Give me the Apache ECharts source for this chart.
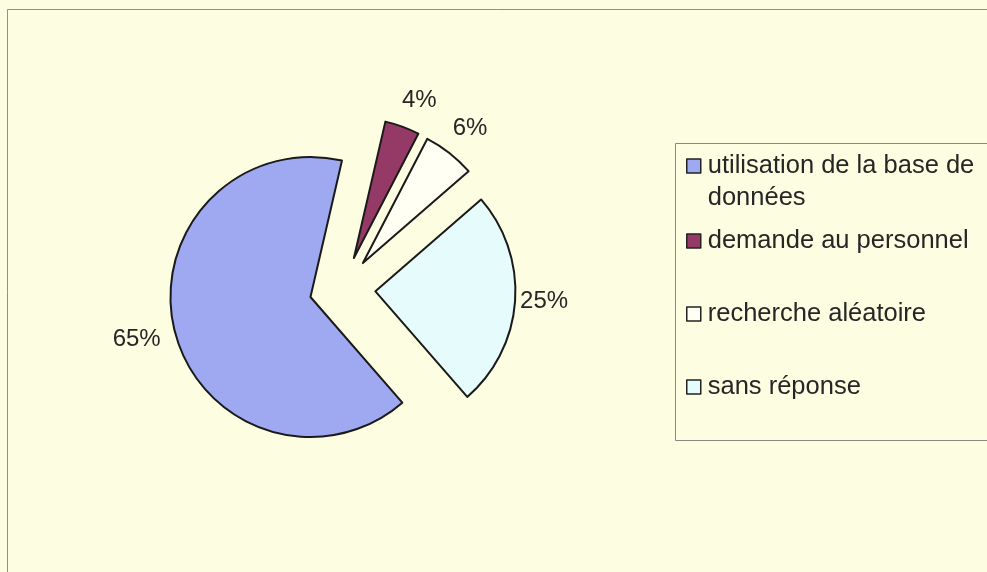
<!DOCTYPE html>
<html>
<head>
<meta charset="utf-8">
<script src="https://cdn.jsdelivr.net/npm/echarts@6/dist/echarts.min.js"></script>
<style>
  html, body { margin: 0; padding: 0; background: #FDFDE1; }
  #chart { width: 987px; height: 572px; }
</style>
</head>
<body>
<div id="chart"></div>
<script>
// ---- data ----
const categories = ['utilisation de la base de données', 'demande au personnel', 'recherche aléatoire', 'sans réponse'];
const legendLabels = ['\nutilisation de la base de\ndonnées', 'demande au personnel', 'recherche aléatoire', 'sans réponse'];
const values = [65, 4, 6, 25];

// ---- styling (not data) ----
const sliceColors = ['#9FA9F2', '#953A66', '#FFFFF3', '#E6FBFB'];
const labelLen = [35, 28, 31, 5];
const labelDist = [-20, -10, -16, 0];
const FONT = '"Liberation Sans", Arial, sans-serif';

const chart = echarts.init(document.getElementById('chart'), null, { renderer: 'canvas' });

const seriesData = categories.map((name, i) => ({
  name: name,
  value: values[i],
  selected: true,
  itemStyle: { color: sliceColors[i] },
  select: { itemStyle: { color: sliceColors[i] } },
  label: { distanceToLabelLine: labelDist[i] },
  labelLine: { length: labelLen[i], length2: 0 }
}));

const legendData = categories.map((name, i) => ({
  name: name,
  textStyle: i === 0 ? { lineHeight: 32 } : { lineHeight: 92 }
}));

chart.setOption({
  animation: false,
  backgroundColor: '#FDFDE1',
  graphic: [
    { type: 'rect', shape: { x: 7.5, y: 9.5, width: 1000, height: 600 },
      style: { fill: 'none', stroke: '#8f8f8f', lineWidth: 1 }, silent: true },
    { type: 'rect', shape: { x: 675.5, y: 143.5, width: 330, height: 297 },
      style: { fill: 'none', stroke: '#8a8a7a', lineWidth: 1 }, silent: true }
  ],
  legend: {
    orient: 'vertical',
    left: 686,
    top: 118,
    itemGap: -19,
    itemWidth: 14,
    itemHeight: 14,
    icon: 'rect',
    padding: 0,
    data: legendData,
    selectedMode: false,
    formatter: function (name) { return legendLabels[categories.indexOf(name)]; },
    itemStyle: { borderColor: '#222', borderWidth: 1.5 },
    textStyle: { fontFamily: FONT, fontSize: 25.5, color: '#262626', padding: [0, 0, 0, 2] }
  },
  series: [{
    type: 'pie',
    center: [342.5, 289],
    radius: 140,
    startAngle: -49,
    clockwise: true,
    selectedMode: 'multiple',
    selectedOffset: 33,
    avoidLabelOverlap: false,
    emphasis: { disabled: true },
    itemStyle: { borderColor: '#1a1a1a', borderWidth: 2 },
    select: { itemStyle: { borderColor: '#1a1a1a', borderWidth: 2 } },
    label: {
      show: true,
      position: 'outside',
      fontFamily: FONT,
      fontSize: 24,
      color: '#262626',
      formatter: function (p) { return Math.round(p.percent) + '%'; }
    },
    labelLine: { show: false },
    data: seriesData
  }]
});
</script>
</body>
</html>
